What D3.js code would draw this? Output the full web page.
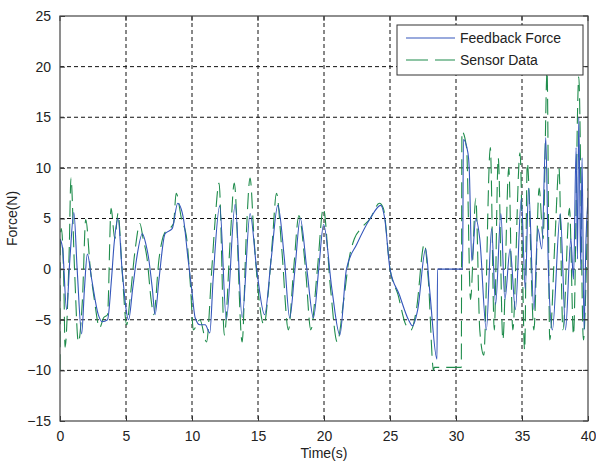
<!DOCTYPE html>
<html>
<head>
<meta charset="utf-8">
<script src="https://cdn.jsdelivr.net/npm/d3@7"></script>
<style>
  body { margin: 0; background: #fff; }
  text { font-family: "Liberation Sans", Arial, sans-serif; fill: #222; }
</style>
</head>
<body>
<svg width="596" height="463"></svg>
<script>
// feedback force (blue, solid)
var fbTime = [0, 0.2, 0.5, 0.75, 1.05, 1.3, 1.64, 1.85, 2.07, 2.4, 2.9, 3.2, 3.6, 3.9, 4.1, 4.4, 4.7, 5.2, 5.5, 5.8,
  6.24, 6.5, 6.7, 7.0, 7.2, 7.5, 7.96, 8.5, 8.92, 9.35, 9.7, 9.98, 10.24, 10.6, 11.0, 11.35, 11.6, 12.1, 12.6, 13.27,
  13.8, 14.4, 14.9, 15.5, 16.0, 16.5, 17.0, 17.4, 17.8, 18.2, 18.7, 19.2, 19.6, 19.97, 20.6, 21.2, 21.7, 22.5, 23.5, 24.3,
  24.6, 25.0, 25.7, 26.4, 26.7, 27.1, 27.7, 28.0, 28.56, 28.6, 30.5, 30.56, 30.9, 31.0, 31.2, 31.5, 31.8, 32.3, 32.7, 33.0,
  33.4, 33.7, 34.1, 34.5, 34.95, 35.25, 35.5, 35.9, 36.2, 36.5, 36.8, 37.0, 37.3, 37.9, 38.3, 38.7, 38.9, 39.1, 39.2, 39.3,
  39.45, 39.55, 39.7, 39.85, 40.0];
var fbForce = [3, 2, -4, 1, 5.6, 0, -6.4, -2, 1.5, -1, -4.5, -5.2, -5, -1, 2.5, 5, 0, -5, -2, 1,
  3.5, 2.5, 1.2, -2, -4.5, -1, 3.5, 4, 6.5, 5, 1, -2, -4.8, -5.5, -5.5, -6.3, -1, 6.25, -5, 6.4,
  -4.8, 5.5, 0, -4.5, 1, 6.3, 1, -4.8, 0, 5, 0, -4.8, 0, 4.4, -2, -6.5, 0, 2.5, 5, 6.3,
  5, 0, -2.5, -5, -5.6, -4, 2, -2, -8.9, 0, 0, 12.8, 11.5, 10, 0.8, 5, 3, -6, 4, -3.5,
  5.5, -3, 2, -4, 7, -2, 8, -4, 4, 2, 13, 0, -6, 5.5, -6, 3, -1, 12, 1, 15,
  0, 11, -6, 3, 7];

// sensor data (green, dashed)
var sdTime = [0, 0.02, 0.1, 0.3, 0.38, 0.7, 0.83, 1.1, 1.39, 1.7, 1.95, 2.3, 2.6, 3.0, 3.3, 3.6, 3.87, 4.15, 4.4, 4.7,
  5.05, 5.3, 5.7, 6.05, 6.3, 6.6, 6.9, 7.1, 7.5, 7.9, 8.3, 8.6, 8.8, 9.2, 9.6, 9.9, 10.1, 10.6, 11.1, 11.5,
  11.75, 12.05, 12.45, 12.9, 13.2, 13.8, 14.1, 14.4, 14.7, 15.0, 15.45, 15.8, 16.1, 16.4, 16.8, 17.3, 17.7, 18.1, 18.6, 19.0,
  19.5, 19.95, 20.5, 21.0, 21.5, 21.9, 22.3, 22.8, 23.5, 24.2, 24.5, 25.0, 25.6, 26.2, 26.6, 27.0, 27.6, 27.9, 28.3, 28.35,
  30.4, 30.45, 30.8, 31.1, 31.5, 31.8, 32.1, 32.6, 32.9, 33.2, 33.55, 34.0, 34.3, 34.85, 35.2, 35.4, 35.9, 36.3, 36.6, 36.9,
  37.1, 37.5, 37.8, 38.1, 38.6, 38.9, 39.3, 39.65, 40.0];
var sdForce = [-10, 3, 4, -2, -7.7, 2, 9, 0, -7.2, -3, 4.9, 0, -3, -5.8, -4.8, -4.5, 6, 3, 5.5, 0,
  -5.5, -3, 2, 4.5, 3, 1, -3, -4.5, 1, 3.5, 4, 4.5, 7.5, 5, 3, -2, -6, -5, -7.2, 0,
  4.8, 8.5, -6.5, 3, 8.5, -7.2, 3, 9, 3, -2, -5.5, -2, 3, 7.5, 2, -6, 0, 5.3, 0, -6,
  0, 6, -2, -7.2, -3, 1, 3, 4, 5, 6.5, 6, 0, -2.5, -5.5, -6, -4, 2.5, -1, -10, -9.7,
  -9.7, 13.6, 12, -3, 7, -6, -8.5, 12, -6, 11, -7, 10, -6, 11.5, -8, 10.5, -6, 8, 3, 19.5,
  -7, 3, 10, -6, 6, -6.5, 19, -7, 8];

var xTicks = [0, 5, 10, 15, 20, 25, 30, 35, 40];
var yTicks = [-15, -10, -5, 0, 5, 10, 15, 20, 25];
var seriesNames = ["Feedback Force", "Sensor Data"];
var seriesColors = ["#3456bb", "#1f8c4c"];

var svg = d3.select("svg");
var pLeft = 60, pRight = 588, pTop = 16, pBottom = 421;

var x = d3.scaleLinear().domain([0, 40]).range([pLeft, pRight]);
var y = d3.scaleLinear().domain([-15, 25]).range([pBottom, pTop]);

// grid
svg.append("g").selectAll("line").data(xTicks.slice(1, -1)).enter().append("line")
  .attr("x1", function(d){ return x(d); }).attr("x2", function(d){ return x(d); })
  .attr("y1", pTop).attr("y2", pBottom)
  .attr("stroke", "#111").attr("stroke-width", 1).attr("stroke-dasharray", "4,3");
svg.append("g").selectAll("line").data(yTicks.slice(1, -1)).enter().append("line")
  .attr("x1", pLeft).attr("x2", pRight)
  .attr("y1", function(d){ return y(d); }).attr("y2", function(d){ return y(d); })
  .attr("stroke", "#111").attr("stroke-width", 1).attr("stroke-dasharray", "4,3");

svg.append("clipPath").attr("id", "clip").append("rect")
  .attr("x", pLeft).attr("y", pTop).attr("width", pRight - pLeft).attr("height", pBottom - pTop);

var line = d3.line()
  .curve(d3.curveMonotoneX)
  .x(function(d){ return x(d[0]); })
  .y(function(d){ return y(d[1]); });

var fbData = fbTime.map(function(t, i){ return [t, fbForce[i]]; });
var sdData = sdTime.map(function(t, i){ return [t, sdForce[i]]; });

var plot = svg.append("g").attr("clip-path", "url(#clip)");
plot.append("path").datum(sdData).attr("d", line)
  .attr("fill", "none").attr("stroke", seriesColors[1]).attr("stroke-width", 1.1)
  .attr("stroke-dasharray", "16,7");
plot.append("path").datum(fbData).attr("d", line)
  .attr("fill", "none").attr("stroke", seriesColors[0]).attr("stroke-width", 1.1);

// axes, ticks inward like matlab
var xAxis = svg.append("g").attr("transform", "translate(0," + pBottom + ")")
  .call(d3.axisBottom(x).tickValues(xTicks).tickSizeInner(-5).tickSizeOuter(0).tickPadding(10));
var yAxis = svg.append("g").attr("transform", "translate(" + pLeft + ",0)")
  .call(d3.axisLeft(y).tickValues(yTicks).tickSizeInner(-5).tickSizeOuter(0).tickPadding(9));
[xAxis, yAxis].forEach(function(a){
  a.select(".domain").remove();
  a.selectAll("line").attr("stroke", "#333");
  a.selectAll("text").attr("font-size", "14px").attr("fill", "#222")
    .attr("font-family", "Liberation Sans, Arial, sans-serif");
});
// top / right ticks
svg.append("g").selectAll("line").data(xTicks).enter().append("line")
  .attr("x1", function(d){ return x(d); }).attr("x2", function(d){ return x(d); })
  .attr("y1", pTop).attr("y2", pTop + 5).attr("stroke", "#333");
svg.append("g").selectAll("line").data(yTicks).enter().append("line")
  .attr("x1", pRight - 5).attr("x2", pRight)
  .attr("y1", function(d){ return y(d); }).attr("y2", function(d){ return y(d); }).attr("stroke", "#333");

svg.append("rect").attr("x", pLeft).attr("y", pTop)
  .attr("width", pRight - pLeft).attr("height", pBottom - pTop)
  .attr("fill", "none").attr("stroke", "#444").attr("stroke-width", 1.2);

svg.append("text").attr("x", (pLeft + pRight) / 2).attr("y", 458)
  .attr("text-anchor", "middle").attr("font-size", "14px").text("Time(s)");
svg.append("text").attr("transform", "rotate(-90)")
  .attr("x", -(pTop + pBottom) / 2).attr("y", 17)
  .attr("text-anchor", "middle").attr("font-size", "14px").text("Force(N)");

// legend
var lg = svg.append("g");
lg.append("rect").attr("x", 397).attr("y", 25).attr("width", 186).attr("height", 50)
  .attr("fill", "#fff").attr("stroke", "#333").attr("stroke-width", 1);
seriesNames.forEach(function(name, i){
  var ly = 38 + i * 22;
  lg.append("line").attr("x1", 406).attr("x2", 455).attr("y1", ly).attr("y2", ly)
    .attr("stroke", seriesColors[i]).attr("stroke-width", 1.2)
    .attr("stroke-dasharray", i == 1 ? "22,7" : null);
  lg.append("text").attr("x", 460).attr("y", ly + 5).attr("font-size", "14px").text(name);
});
</script>
</body>
</html>
